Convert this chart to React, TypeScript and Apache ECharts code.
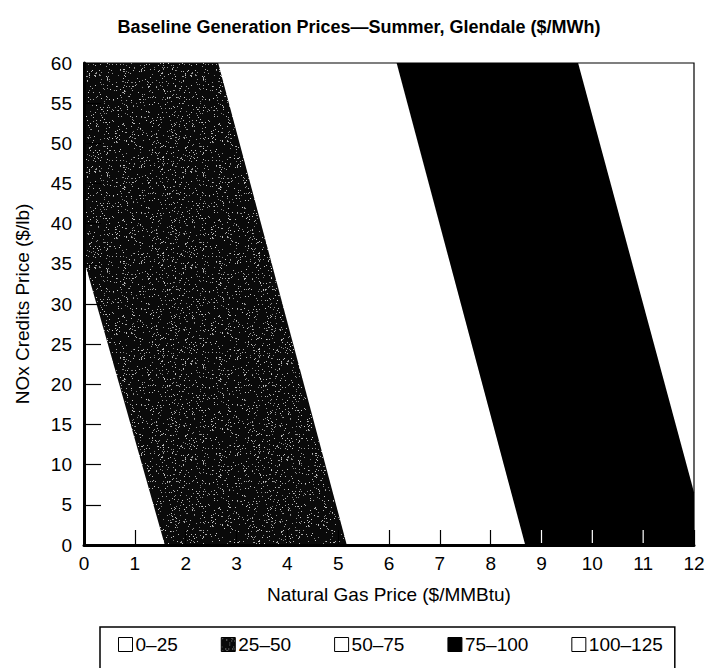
import React, { useEffect, useRef } from "react";
import * as echarts from "echarts";

const TITLE = "Baseline Generation Prices—Summer, Glendale ($/MWh)";
const X_NAME = "Natural Gas Price ($/MMBtu)";
const Y_NAME = "NOx Credits Price ($/lb)";

const bandNames = ["0–25", "25–50", "50–75", "75–100", "100–125"];
const bandKinds = ["white", "speckle", "white", "black", "white"];

// Boundaries between consecutive bands: gas price where the boundary meets NOx = 0 and NOx = 60
const boundaryAtNoxMin = [1.59, 5.17, 8.68, 12.28];
const boundaryAtNoxMax = [-1.1, 2.64, 6.15, 9.72];

const X_MIN = 0;
const X_MAX = 12;
const X_STEP = 1;
const Y_MIN = 0;
const Y_MAX = 60;
const Y_STEP = 5;

const xTickValues = [1, 2, 3, 4, 5, 6, 7, 8, 9, 10, 11];

const FONT = "'Liberation Sans', Arial, Helvetica, sans-serif";

function makeSpeckle(): string {
  const c = document.createElement("canvas");
  const n = 96;
  c.width = n;
  c.height = n;
  const ctx = c.getContext("2d");
  if (!ctx) return "";
  ctx.fillStyle = "#0a0a0a";
  ctx.fillRect(0, 0, n, n);
  let s = 12345;
  const rnd = () => {
    s = (s * 1103515245 + 12345) % 2147483648;
    return s / 2147483648;
  };
  for (let i = 0; i < n * n * 0.07; i++) {
    const x = Math.floor(rnd() * n);
    const y = Math.floor(rnd() * n);
    const g = 120 + Math.floor(rnd() * 90);
    ctx.fillStyle = `rgb(${g},${g},${g})`;
    ctx.fillRect(x, y, 1, 1);
  }
  return c.toDataURL();
}

type Pt = [number, number];

function clipHalf(pts: Pt[], inside: (p: Pt) => boolean, inter: (a: Pt, b: Pt) => Pt): Pt[] {
  const out: Pt[] = [];
  for (let i = 0; i < pts.length; i++) {
    const cur = pts[i];
    const prev = pts[(i + pts.length - 1) % pts.length];
    const ci = inside(cur);
    const pi = inside(prev);
    if (ci) {
      if (!pi) out.push(inter(prev, cur));
      out.push(cur);
    } else if (pi) {
      out.push(inter(prev, cur));
    }
  }
  return out;
}

function clipRect(pts: Pt[]): Pt[] {
  const ix = (v: number) => (a: Pt, b: Pt): Pt => {
    const t = (v - a[0]) / (b[0] - a[0]);
    return [v, a[1] + t * (b[1] - a[1])];
  };
  const iy = (v: number) => (a: Pt, b: Pt): Pt => {
    const t = (v - a[1]) / (b[1] - a[1]);
    return [a[0] + t * (b[0] - a[0]), v];
  };
  let p = pts;
  p = clipHalf(p, (q) => q[0] >= X_MIN, ix(X_MIN));
  p = clipHalf(p, (q) => q[0] <= X_MAX, ix(X_MAX));
  p = clipHalf(p, (q) => q[1] >= Y_MIN, iy(Y_MIN));
  p = clipHalf(p, (q) => q[1] <= Y_MAX, iy(Y_MAX));
  return p;
}

function bandPolygon(i: number): Pt[] {
  const lb = i === 0 ? -50 : boundaryAtNoxMin[i - 1];
  const lt = i === 0 ? -50 : boundaryAtNoxMax[i - 1];
  const rb = i === bandNames.length - 1 ? 50 : boundaryAtNoxMin[i];
  const rt = i === bandNames.length - 1 ? 50 : boundaryAtNoxMax[i];
  return clipRect([
    [lb, Y_MIN],
    [rb, Y_MIN],
    [rt, Y_MAX],
    [lt, Y_MAX],
  ]);
}

export default function App() {
  const ref = useRef<HTMLDivElement>(null);

  useEffect(() => {
    if (!ref.current) return;
    const chart = echarts.init(ref.current, undefined, { renderer: "svg" });
    const speckle = { image: makeSpeckle(), repeat: "repeat" } as any;
    const fillFor = (k: string): any => (k === "speckle" ? speckle : k === "black" ? "#000" : "#fff");

    const bandSeries = bandNames.map((name, i) => ({
      type: "custom",
      name,
      z: 2,
      data: [[X_MIN, Y_MIN]],
      itemStyle: { color: fillFor(bandKinds[i]), borderColor: "#000", borderWidth: 1 },
      renderItem: (_params: any, api: any) => {
        const pts = bandPolygon(i).map((p) => api.coord(p));
        if (bandKinds[i] === "white") return null;
        return {
          type: "polygon",
          shape: { points: pts },
          style: { fill: fillFor(bandKinds[i]), stroke: null },
        };
      },
    }));

    // Inner ticks that fall inside the black band show white, as in the original print
    const blackIdx = bandKinds.indexOf("black");
    const tickSeries = {
      type: "custom",
      name: "ticks",
      z: 5,
      silent: true,
      data: xTickValues.map((v) => [v, Y_MIN]),
      renderItem: (_params: any, api: any) => {
        const x = api.value(0);
        const inBlack = x > boundaryAtNoxMin[blackIdx - 1] && x < (boundaryAtNoxMin[blackIdx] ?? 99);
        if (!inBlack) return null;
        const p = api.coord([x, Y_MIN]);
        return {
          type: "line",
          shape: { x1: p[0], y1: p[1] - 2, x2: p[0], y2: p[1] - 15 },
          style: { stroke: "#fff", lineWidth: 1.2 },
        };
      },
    };

    chart.setOption({
      animation: false,
      backgroundColor: "#fff",
      textStyle: { fontFamily: FONT, color: "#000" },
      title: {
        text: TITLE,
        left: "center",
        top: 13,
        textStyle: { fontFamily: FONT, fontSize: 18, fontWeight: "bold", color: "#000" },
      },
      grid: {
        left: 84,
        right: 24,
        top: 63,
        bottom: 123,
        show: true,
        borderColor: "#000",
        borderWidth: 1.2,
        backgroundColor: "#fff",
      },
      legend: {
        data: bandNames.map((n, i) => ({
          name: n,
          itemStyle: { color: fillFor(bandKinds[i]), borderColor: "#000", borderWidth: 1 },
        })),
        left: 100,
        top: 627,
        icon: "rect",
        itemWidth: 14,
        itemHeight: 14,
        itemGap: 43,
        padding: [8, 12, 18, 18],
        borderColor: "#000",
        borderWidth: 1.5,
        textStyle: { fontFamily: FONT, fontSize: 19, color: "#000", padding: [0, 0, 0, -2] },
        selectedMode: false,
      },
      xAxis: {
        type: "value",
        min: X_MIN,
        max: X_MAX,
        interval: X_STEP,
        z: 3,
        name: X_NAME,
        nameLocation: "middle",
        nameGap: 40,
        nameTextStyle: { fontFamily: FONT, fontSize: 19, color: "#000" },
        axisLine: { show: true, onZero: false, lineStyle: { color: "#000", width: 3 } },
        axisTick: { show: true, inside: true, length: 15, lineStyle: { color: "#000", width: 1.2 } },
        axisLabel: { fontFamily: FONT, fontSize: 19, color: "#000", margin: 9 },
        splitLine: { show: false },
      },
      yAxis: {
        type: "value",
        min: Y_MIN,
        max: Y_MAX,
        interval: Y_STEP,
        z: 3,
        name: Y_NAME,
        nameLocation: "middle",
        nameGap: 52,
        nameTextStyle: { fontFamily: FONT, fontSize: 19, color: "#000" },
        axisLine: { show: true, onZero: false, lineStyle: { color: "#000", width: 3 } },
        axisTick: { show: true, inside: true, length: 17, lineStyle: { color: "#000", width: 1.2 } },
        axisLabel: { fontFamily: FONT, fontSize: 19, color: "#000", margin: 12 },
        splitLine: { show: false },
      },
      series: [...bandSeries, tickSeries],
    });
    return () => chart.dispose();
  }, []);

  return (
    <div
      ref={ref}
      style={{ position: "absolute", left: 0, top: 0, width: 718, height: 668, background: "#fff" }}
    />
  );
}
